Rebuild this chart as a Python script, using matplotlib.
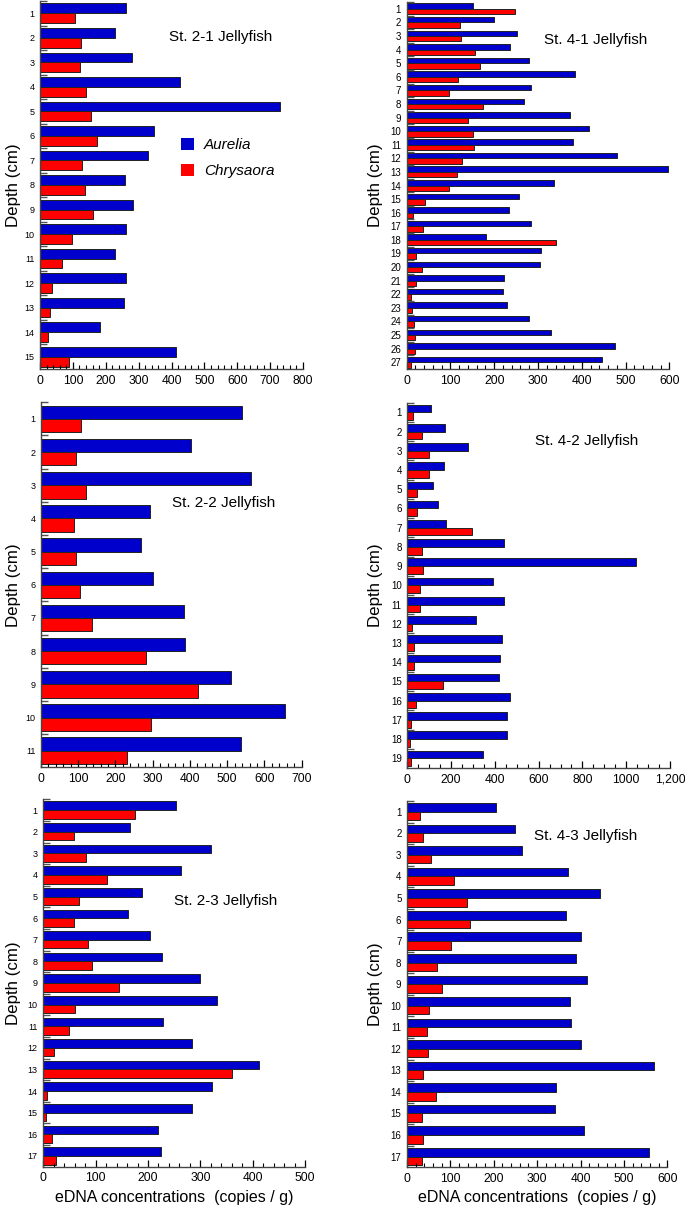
import matplotlib
matplotlib.use("Agg")
import matplotlib.pyplot as plt
from matplotlib.patches import Patch
from matplotlib.ticker import MultipleLocator, AutoMinorLocator

plt.rcParams['font.family'] = ['Liberation Sans', 'DejaVu Sans']

# St. 2-1
st21_aurelia = [263, 228, 281, 426, 730, 347, 329, 259, 284, 262, 228, 263, 256, 184, 413]
st21_chrysaora = [107, 126, 121, 141, 154, 172, 129, 136, 160, 96, 66, 36, 29, 23, 87]
# St. 4-1
st41_aurelia = [151, 199, 253, 235, 279, 385, 285, 269, 372, 417, 380, 480, 598, 337,
                256, 233, 284, 182, 306, 304, 222, 219, 230, 279, 330, 476, 446]
st41_chrysaora = [247, 121, 125, 156, 168, 117, 96, 174, 140, 151, 153, 126, 116, 96,
                  41, 14, 38, 342, 21, 34, 21, 10, 12, 16, 18, 18, 9]
# St. 2-2
st22_aurelia = [540, 402, 563, 292, 269, 300, 385, 386, 510, 656, 536]
st22_chrysaora = [107, 95, 121, 89, 93, 104, 138, 282, 422, 295, 232]
# St. 4-2
st42_aurelia = [107, 174, 279, 169, 117, 139, 178, 443, 1043, 390, 443, 314, 432, 422,
                419, 471, 455, 457, 344]
st42_chrysaora = [27, 69, 100, 100, 46, 44, 294, 69, 73, 56, 56, 20, 32, 30, 161, 38,
                  18, 11, 17]
# St. 2-3
st23_aurelia = [254, 166, 321, 264, 188, 162, 203, 226, 300, 331, 228, 285, 413, 323,
                285, 220, 225]
st23_chrysaora = [175, 58, 81, 122, 68, 58, 85, 94, 145, 61, 50, 20, 361, 8, 6, 16, 25]
# St. 4-3
st43_aurelia = [205, 250, 265, 371, 446, 367, 402, 390, 414, 375, 378, 400, 569, 343,
                341, 408, 558]
st43_chrysaora = [31, 37, 56, 108, 138, 145, 101, 68, 81, 51, 45, 49, 38, 66, 34, 36, 35]

st42_xlabels = ["0", "200", "400", "600", "800", "1000", "1,200"]

W, H = 685, 1208
fig = plt.figure(figsize=(W / 100, H / 100), dpi=100)

blue = "#0000cc"
red = "#ff0000"


def make_axes(left, right, top, bottom):
    return fig.add_axes([left / W, 1 - bottom / H, (right - left) / W, (bottom - top) / H])


def draw_panel(ax, aurelia, chrysaora, xmax, major, nminor, title, tx, ty, ylab_x,
               yfs=6.5, xlabels=None):
    n = len(aurelia)
    depth = list(range(1, n + 1))
    ax.barh([d - 0.2 for d in depth], aurelia, height=0.4, color=blue,
            edgecolor="#222222", linewidth=0.7)
    ax.barh([d + 0.2 for d in depth], chrysaora, height=0.4, color=red,
            edgecolor="#222222", linewidth=0.7)
    ax.set_ylim(n + 0.5, 0.5)
    ax.set_xlim(0, xmax)
    ax.set_yticks(depth)
    ax.set_yticklabels([str(d) for d in depth], fontsize=yfs)
    ax.set_yticks([d + 0.5 for d in range(0, n)], minor=True)
    ax.tick_params(axis="y", which="major", length=0, pad=4)
    ax.tick_params(axis="y", which="minor", direction="in", length=5, width=1,
                   color="#555555")
    ax.xaxis.set_major_locator(MultipleLocator(major))
    ax.xaxis.set_minor_locator(AutoMinorLocator(nminor))
    if xlabels is not None:
        ax.set_xticks(range(0, xmax + 1, major))
        ax.set_xticklabels(xlabels)
    ax.tick_params(axis="x", which="major", direction="in", length=5, width=0.9,
                   labelsize=8.7, pad=4)
    ax.tick_params(axis="x", which="minor", direction="in", length=3, width=0.8)
    for s in ["top", "right"]:
        ax.spines[s].set_visible(False)
    for s in ["left", "bottom"]:
        ax.spines[s].set_color("#444444")
        ax.spines[s].set_linewidth(1.0)
    ax.set_ylabel("Depth (cm)", fontsize=12.2)
    ax.yaxis.set_label_coords(ylab_x, 0.5)
    ax.text(tx, ty, title, transform=ax.transAxes, fontsize=11, va="center", ha="left")


ax1 = make_axes(40, 303, 1, 369)
draw_panel(ax1, st21_aurelia, st21_chrysaora, 800, 100, 5, "St. 2-1 Jellyfish",
           0.49, 0.902, -0.074)
ax1.legend(handles=[Patch(facecolor=blue, label="Aurelia"),
                    Patch(facecolor=red, label="Chrysaora")],
           loc="upper left", bbox_to_anchor=(0.536, 0.628), frameon=False,
           prop={"style": "italic", "size": 11}, handlelength=0.85, handleheight=0.85,
           handletextpad=0.65, labelspacing=0.75, borderpad=0, borderaxespad=0)

ax2 = make_axes(406.7, 669.3, 2, 369)
draw_panel(ax2, st41_aurelia, st41_chrysaora, 600, 100, 5, "St. 4-1 Jellyfish",
           0.524, 0.896, -0.091, yfs=7)

ax3 = make_axes(41, 301.7, 402.3, 767.3)
draw_panel(ax3, st22_aurelia, st22_chrysaora, 700, 100, 5, "St. 2-2 Jellyfish",
           0.501, 0.723, -0.078)

ax4 = make_axes(407.3, 670, 402.7, 768)
draw_panel(ax4, st42_aurelia, st42_chrysaora, 1200, 200, 4, "St. 4-2 Jellyfish",
           0.486, 0.895, -0.091, yfs=7, xlabels=st42_xlabels)

ax5 = make_axes(43.3, 305, 799.3, 1166.7)
draw_panel(ax5, st23_aurelia, st23_chrysaora, 500, 100, 5, "St. 2-3 Jellyfish",
           0.499, 0.723, -0.087)
ax5.set_xlabel("eDNA concentrations  (copies / g)", fontsize=11.5, labelpad=4)

ax6 = make_axes(407, 667.3, 801, 1167.3)
draw_panel(ax6, st43_aurelia, st43_chrysaora, 600, 100, 5, "St. 4-3 Jellyfish",
           0.488, 0.904, -0.091, yfs=7)
ax6.set_xlabel("eDNA concentrations  (copies / g)", fontsize=11.5, labelpad=4)

fig.savefig("out.png", dpi=100)
